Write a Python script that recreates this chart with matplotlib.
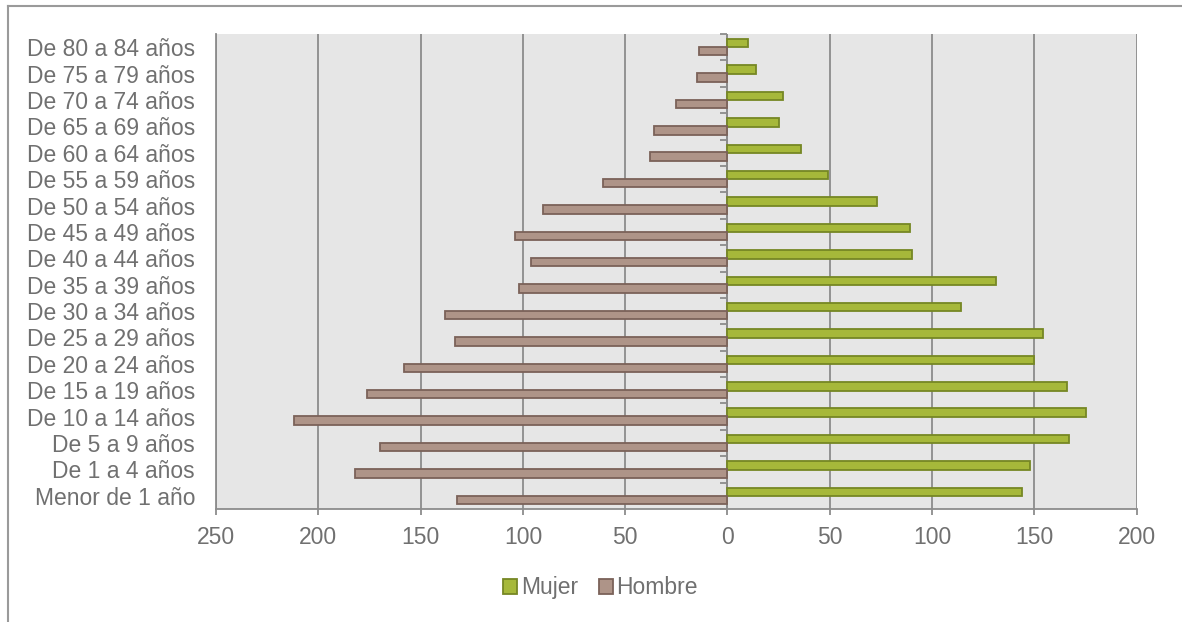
import numpy as np
import matplotlib.pyplot as plt
from matplotlib.patches import Patch
from matplotlib.lines import Line2D

plt.rcParams['font.family'] = ['Liberation Sans', 'DejaVu Sans']

grupos = ['Menor de 1 año', 'De 1 a 4 años', 'De 5 a 9 años', 'De 10 a 14 años',
          'De 15 a 19 años', 'De 20 a 24 años', 'De 25 a 29 años', 'De 30 a 34 años',
          'De 35 a 39 años', 'De 40 a 44 años', 'De 45 a 49 años', 'De 50 a 54 años',
          'De 55 a 59 años', 'De 60 a 64 años', 'De 65 a 69 años', 'De 70 a 74 años',
          'De 75 a 79 años', 'De 80 a 84 años']
mujer = [144, 148, 167, 175, 166, 150, 154, 114, 131, 90, 89, 73, 49, 36, 25, 27, 14, 10]
hombre = [132, 182, 170, 212, 176, 158, 133, 138, 102, 96, 104, 90, 61, 38, 36, 25, 15, 14]
xticks = [-250, -200, -150, -100, -50, 0, 50, 100, 150, 200]

txt = '#707070'
grid = '#8c8c8c'
fs = 16.5

fig = plt.figure(figsize=(11.82, 6.22), dpi=100)
ax = fig.add_axes([0.1827, 0.1817, 0.779, 0.7636])
ax.set_facecolor('#e6e6e6')

y = np.arange(len(grupos))
h = 0.32
ax.barh(y + 0.15, mujer, height=h, color='#a6b83a', edgecolor='#768724', linewidth=1.3, zorder=3, label='Mujer')
ax.barh(y - 0.15, [-v for v in hombre], height=h, color='#ae9488', edgecolor='#7b6259', linewidth=1.3, zorder=3, label='Hombre')

ax.set_xlim(-250, 200)
ax.set_ylim(-0.5, len(grupos) - 0.5)
ax.set_xticks(xticks)
ax.set_xticklabels([str(abs(v)) for v in xticks])
ax.set_yticks(y)
ax.set_yticklabels(grupos)

ax.grid(axis='x', color=grid, linewidth=1.3, zorder=0)
ax.set_axisbelow(True)
ax.tick_params(axis='x', colors=grid, labelcolor=txt, labelsize=fs, length=4.5, width=1.3, pad=8)
ax.tick_params(axis='y', length=0, labelcolor=txt, labelsize=fs, pad=15)
for s in ['top', 'right']:
    ax.spines[s].set_visible(False)
for s in ['left', 'bottom']:
    ax.spines[s].set_color(grid)
    ax.spines[s].set_linewidth(1.3)

# category axis at zero with small ticks between groups
ax.axvline(0, color=grid, linewidth=1.3, zorder=2)
ax.hlines(np.arange(len(grupos) + 1) - 0.5, -3.5, 0, color=grid, linewidth=1.3, zorder=2, clip_on=False)

handles = [Patch(facecolor='#a6b83a', edgecolor='#768724', linewidth=1.3, label='Mujer'),
           Patch(facecolor='#ae9488', edgecolor='#7b6259', linewidth=1.3, label='Hombre')]
fig.legend(handles=handles, loc='center', bbox_to_anchor=(0.508, 0.0547), ncol=2, frameon=False,
           fontsize=fs, labelcolor=txt, handlelength=0.62, handleheight=0.62, handletextpad=0.15,
           columnspacing=0.9)

# outer chart border
fig.add_artist(Line2D([8 / 1182, 8 / 1182], [0, 1 - 6 / 622], color='#9a9a9a', linewidth=1.5))
fig.add_artist(Line2D([8 / 1182, 1], [1 - 6 / 622, 1 - 6 / 622], color='#9a9a9a', linewidth=1.5))

plt.savefig('out.png', dpi=100)
